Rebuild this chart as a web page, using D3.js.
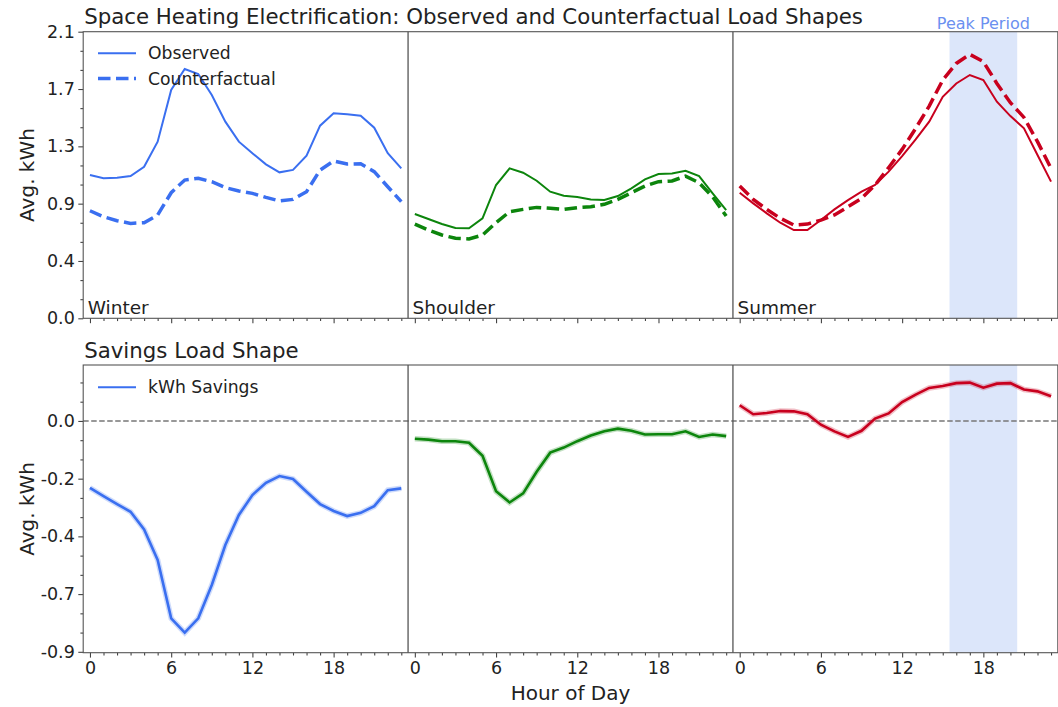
<!DOCTYPE html>
<html>
<head>
<meta charset="utf-8">
<script src="https://cdn.jsdelivr.net/npm/d3@7"></script>
<style>
  body { margin: 0; background: #fff; }
  text { font-family: "DejaVu Sans", sans-serif; fill: #222; }
</style>
</head>
<body>
<div id="chart"></div>
<script>
/* CONSTANTS AND GLOBALS */
const width = 1058,
  height = 707;

// panel boxes (pixels)
const left = 83.2, right = 1057.8;
const top1 = 31.7, bottom1 = 318.3;
const top2 = 365, bottom2 = 652.7;

/* DATA */
const seasons = ["Winter", "Shoulder", "Summer"];
const seasonColors = ["#3a6ff0", "#0c850c", "#c8001e"];
const hours = d3.range(24);

const winterObserved = [1.075, 1.05, 1.055, 1.067, 1.137, 1.325, 1.713, 1.87, 1.833, 1.675, 1.475, 1.325,
  1.238, 1.155, 1.095, 1.113, 1.22, 1.445, 1.538, 1.53, 1.52, 1.43, 1.238, 1.125];
const winterCounterfactual = [0.807, 0.762, 0.732, 0.712, 0.717, 0.775, 0.942, 1.037, 1.05, 1.025, 0.98, 0.955,
  0.937, 0.907, 0.88, 0.892, 0.95, 1.112, 1.18, 1.157, 1.16, 1.10, 0.987, 0.875];
const shoulderObserved = [0.782, 0.745, 0.707, 0.677, 0.675, 0.75, 1.0, 1.125, 1.092, 1.032, 0.95, 0.92,
  0.91, 0.892, 0.887, 0.917, 0.975, 1.042, 1.082, 1.087, 1.107, 1.067, 0.937, 0.812];
const shoulderCounterfactual = [0.707, 0.662, 0.625, 0.60, 0.595, 0.625, 0.717, 0.80, 0.817, 0.832, 0.825, 0.817,
  0.83, 0.837, 0.855, 0.892, 0.942, 0.992, 1.025, 1.03, 1.067, 1.017, 0.912, 0.767];
const summerObserved = [0.942, 0.862, 0.787, 0.717, 0.662, 0.662, 0.737, 0.817, 0.887, 0.95, 1.0, 1.10,
  1.217, 1.342, 1.475, 1.662, 1.762, 1.825, 1.787, 1.625, 1.517, 1.425, 1.225, 1.025];
const summerCounterfactual = [0.992, 0.892, 0.817, 0.75, 0.70, 0.707, 0.737, 0.775, 0.837, 0.90, 1.0, 1.13,
  1.267, 1.425, 1.592, 1.787, 1.912, 1.98, 1.925, 1.762, 1.617, 1.507, 1.325, 1.125];

const winterSavings = [-0.251, -0.282, -0.312, -0.341, -0.407, -0.522, -0.741, -0.795, -0.741, -0.616, -0.466, -0.353,
  -0.278, -0.232, -0.207, -0.218, -0.266, -0.312, -0.338, -0.357, -0.345, -0.32, -0.26, -0.253];
const shoulderSavings = [-0.067, -0.07, -0.076, -0.076, -0.082, -0.131, -0.264, -0.306, -0.272, -0.191, -0.119, -0.10,
  -0.076, -0.055, -0.039, -0.029, -0.037, -0.051, -0.05, -0.05, -0.039, -0.06, -0.051, -0.057];
const summerSavings = [0.059, 0.025, 0.03, 0.037, 0.036, 0.025, -0.014, -0.039, -0.06, -0.037, 0.009, 0.028,
  0.071, 0.099, 0.124, 0.131, 0.142, 0.144, 0.125, 0.14, 0.142, 0.118, 0.111, 0.093];

const observed = [winterObserved, shoulderObserved, summerObserved];
const counterfactual = [winterCounterfactual, shoulderCounterfactual, summerCounterfactual];
const savings = [winterSavings, shoulderSavings, summerSavings];

// tick values and labels
const topTicks = [0, 0.43, 0.86, 1.29, 1.72, 2.15];
const topTickLabels = ["0.0", "0.4", "0.9", "1.3", "1.7", "2.1"];
const bottomTicks = [-0.8667, -0.65, -0.4333, -0.2167, 0];
const bottomTickLabels = ["-0.9", "-0.7", "-0.4", "-0.2", "0.0"];
const hourTicks = [0, 6, 12, 18];
const peakStart = 15.5, peakEnd = 20.5; // summer hours

/* SCALES */
const xScale = d3.scaleLinear().domain([-0.5, 71.5]).range([left, right]);
const yTop = d3.scaleLinear().domain([0, 2.15]).range([bottom1, top1]);
const yBot = d3.scaleLinear().domain([-0.87, 0.21]).range([bottom2, top2]);

const svg = d3.select("#chart").append("svg")
  .attr("width", width)
  .attr("height", height);

svg.append("rect").attr("width", width).attr("height", height).attr("fill", "#fff");

// peak period shading (summer block)
[[top1, bottom1], [top2, bottom2]].forEach(([t, b]) => {
  svg.append("rect")
    .attr("x", xScale(48 + peakStart))
    .attr("y", t)
    .attr("width", xScale(48 + peakEnd) - xScale(48 + peakStart))
    .attr("height", b - t)
    .attr("fill", "#dce6fa");
});

svg.append("text")
  .attr("x", (xScale(48 + peakStart) + xScale(48 + peakEnd)) / 2)
  .attr("y", 28.5)
  .attr("text-anchor", "middle")
  .attr("font-size", 16)
  .style("fill", "#6b90f0")
  .text("Peak Period");

// zero reference line in savings panel
svg.append("line")
  .attr("x1", left).attr("x2", right)
  .attr("y1", yBot(0)).attr("y2", yBot(0))
  .attr("stroke", "#777")
  .attr("stroke-width", 1.5)
  .attr("stroke-dasharray", "5.5,2.5");

// season dividers
[23.5, 47.5].forEach(d => {
  [[top1, bottom1], [top2, bottom2]].forEach(([t, b]) => {
    svg.append("line")
      .attr("x1", xScale(d)).attr("x2", xScale(d))
      .attr("y1", t).attr("y2", b)
      .attr("stroke", "#555")
      .attr("stroke-width", 1.3);
  });
});

/* LINES */
const lineTop = d3.line().x(d => d[0]).y(d => yTop(d[1]));
const lineBot = d3.line().x(d => d[0]).y(d => yBot(d[1]));

seasons.forEach((s, si) => {
  const pts = arr => arr.map((v, h) => [xScale(h + 24 * si), v]);

  svg.append("path")
    .attr("d", lineTop(pts(counterfactual[si])))
    .attr("fill", "none")
    .attr("stroke", seasonColors[si])
    .attr("stroke-width", 3.5)
    .attr("stroke-dasharray", "12.5,5.5");

  svg.append("path")
    .attr("d", lineTop(pts(observed[si])))
    .attr("fill", "none")
    .attr("stroke", seasonColors[si])
    .attr("stroke-width", 2);

  // faint band around the savings line
  svg.append("path")
    .attr("d", lineBot(pts(savings[si])))
    .attr("fill", "none")
    .attr("stroke", seasonColors[si])
    .attr("stroke-opacity", 0.25)
    .attr("stroke-width", 5.5);

  svg.append("path")
    .attr("d", lineBot(pts(savings[si])))
    .attr("fill", "none")
    .attr("stroke", seasonColors[si])
    .attr("stroke-width", 2.6);

  // season labels
  svg.append("text")
    .attr("x", xScale(24 * si - 0.5) + 4.5)
    .attr("y", 313.5)
    .attr("font-size", 18.5)
    .text(s);
});

/* AXES */
const allHourTicks = d3.range(72);
const majorX = [];
seasons.forEach((s, si) => hourTicks.forEach(h => majorX.push(h + 24 * si)));

function styleAxis(g) {
  g.select(".domain").remove();
  g.selectAll(".tick line").attr("stroke", "#444").attr("stroke-width", 1.1);
  g.selectAll(".tick text").attr("font-size", 17.5).style("font-family", "DejaVu Sans").attr("fill", "#222");
}

function minorTicks(scale, ticks, n) {
  const out = [];
  for (let i = 0; i < ticks.length - 1; i++) {
    const step = (ticks[i + 1] - ticks[i]) / n;
    for (let k = 1; k < n; k++) out.push(ticks[i] + k * step);
  }
  // extend past the end ticks while inside the domain
  const step = (ticks[1] - ticks[0]) / n;
  const dom = scale.domain();
  for (let v = ticks[ticks.length - 1] + step; v <= Math.max(...dom) + 1e-9; v += step) out.push(v);
  for (let v = ticks[0] - step; v >= Math.min(...dom) - 1e-9; v -= step) out.push(v);
  return out;
}

// x axes (top: ticks only, bottom: labelled)
[[bottom1, false], [bottom2, true]].forEach(([y, labelled]) => {
  svg.append("g")
    .attr("transform", `translate(0,${y})`)
    .call(d3.axisBottom(xScale).tickValues(allHourTicks.filter(d => !majorX.includes(d))).tickSize(2.8).tickFormat(""))
    .call(styleAxis);
  svg.append("g")
    .attr("transform", `translate(0,${y})`)
    .call(d3.axisBottom(xScale).tickValues(majorX).tickSize(4.9).tickPadding(3.5)
      .tickFormat(d => labelled ? String(d % 24) : ""))
    .call(styleAxis);
});

// y axes
[[yTop, topTicks, topTickLabels], [yBot, bottomTicks, bottomTickLabels]].forEach(([ys, ticks, labels]) => {
  svg.append("g")
    .attr("transform", `translate(${left},0)`)
    .call(d3.axisLeft(ys).tickValues(minorTicks(ys, ticks, 3)).tickSize(2.8).tickFormat(""))
    .call(styleAxis);
  svg.append("g")
    .attr("transform", `translate(${left},0)`)
    .call(d3.axisLeft(ys).tickValues(ticks).tickSize(4.9).tickPadding(3.5)
      .tickFormat((d, i) => labels[i]))
    .call(styleAxis);
});

// frames
[[top1, bottom1], [top2, bottom2]].forEach(([t, b]) => {
  svg.append("rect")
    .attr("x", left).attr("y", t)
    .attr("width", right - left).attr("height", b - t)
    .attr("fill", "none")
    .attr("stroke", "#555")
    .attr("stroke-width", 1.1);
});

/* LEGENDS */
function legendRow(y, label, dashed) {
  svg.append("line")
    .attr("x1", 98).attr("x2", 136)
    .attr("y1", y).attr("y2", y)
    .attr("stroke", seasonColors[0])
    .attr("stroke-width", dashed ? 3.5 : 2)
    .attr("stroke-dasharray", dashed ? "12.5,5.5" : null);
  svg.append("text")
    .attr("x", 148).attr("y", y)
    .attr("dy", "0.35em")
    .attr("font-size", 17.2)
    .text(label);
}
legendRow(53.3, "Observed", false);
legendRow(78.5, "Counterfactual", true);
legendRow(387.3, "kWh Savings", false);

/* TITLES AND LABELS */
svg.append("text")
  .attr("x", left + 1).attr("y", 23.5)
  .attr("font-size", 21.3)
  .text("Space Heating Electrification: Observed and Counterfactual Load Shapes");

svg.append("text")
  .attr("x", left + 1).attr("y", 357.5)
  .attr("font-size", 21.3)
  .text("Savings Load Shape");

[[(top1 + bottom1) / 2], [(top2 + bottom2) / 2]].forEach(([cy]) => {
  svg.append("text")
    .attr("transform", `translate(27,${cy}) rotate(-90)`)
    .attr("text-anchor", "middle")
    .attr("dy", "0.35em")
    .attr("font-size", 20)
    .text("Avg. kWh");
});

svg.append("text")
  .attr("x", (left + right) / 2).attr("y", 700)
  .attr("text-anchor", "middle")
  .attr("font-size", 20)
  .text("Hour of Day");
</script>
</body>
</html>
